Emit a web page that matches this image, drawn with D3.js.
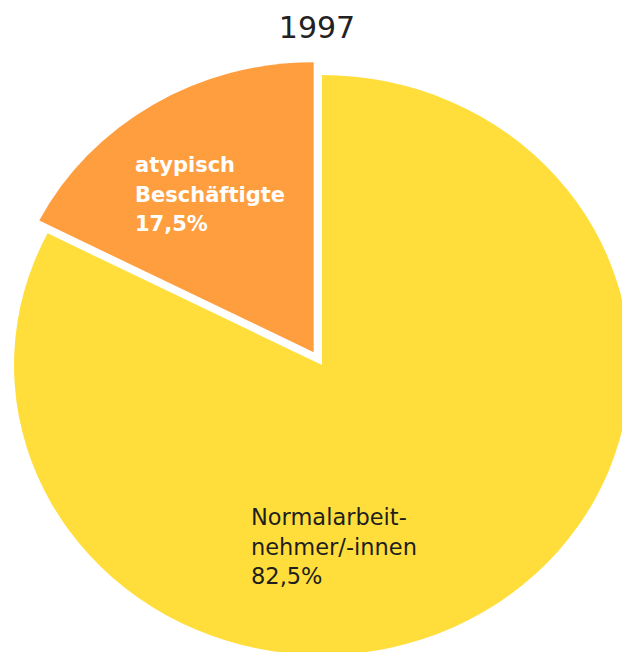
<!DOCTYPE html>
<html>
<head>
<meta charset="utf-8">
<script src="https://cdn.jsdelivr.net/npm/d3@7"></script>
<style>
    body { margin: 0; background: #fff; }
    svg text { font-family: "DejaVu Sans", Verdana, sans-serif; }
</style>
</head>
<body>
<div id="chart"></div>
<script>
// Données : part des salariés, 1997
const title = "1997";
const categories = ["Normalarbeitnehmer/-innen", "atypisch Beschäftigte"];
const values = [82.5, 17.5];
const labelLines = [
    ["Normalarbeit-", "nehmer/-innen", "82,5%"],
    ["atypisch", "Beschäftigte", "17,5%"]
];
const colors = ["#FFDE3C", "#FF9E3F"];
const textColors = ["#1e1e1e", "#ffffff"];

function createChart() {
    const width = 622;
    const height = 652;

    // Le camembert est un peu étiré horizontalement dans l'original
    const cx = 322;
    const cy = 365;
    const radius = 290;
    const stretchX = 1.062;
    const explode = 15;

    const svg = d3.select("#chart")
        .append("svg")
        .attr("width", width)
        .attr("height", height);

    // Titre
    svg.append("text")
        .attr("x", 317)
        .attr("y", 38)
        .attr("text-anchor", "middle")
        .style("font-size", "30px")
        .style("fill", "#222")
        .text(title);

    const data = categories.map((c, i) => ({
        categorie: c,
        valeur: values[i],
        lignes: labelLines[i],
        couleur: colors[i],
        couleurTexte: textColors[i]
    }));

    const pie = d3.pie()
        .sort(null)
        .value(d => d.valeur);

    const arc = d3.arc()
        .innerRadius(0)
        .outerRadius(radius);

    const arcs = pie(data);

    const g = svg.append("g")
        .attr("transform", `translate(${cx},${cy}) scale(${stretchX},1)`);

    // Secteurs (le petit secteur est détaché)
    g.selectAll(".slice")
        .data(arcs)
        .enter()
        .append("path")
        .attr("class", "slice")
        .attr("d", arc)
        .attr("fill", d => d.data.couleur)
        .attr("transform", (d, i) => {
            if (i === 0) return null;
            const a = (d.startAngle + d.endAngle) / 2;
            return `translate(${Math.sin(a) * explode},${-Math.cos(a) * explode})`;
        });

    // Étiquettes (position relative au centre)
    const labelOffsets = [[-71, 160], [-187, -193]];
    const lineHeight = 29.5;

    arcs.forEach((d, i) => {
        const t = svg.append("text")
            .attr("x", cx + labelOffsets[i][0])
            .attr("y", cy + labelOffsets[i][1])
            .style("font-size", i === 1 ? "21px" : "22.5px")
            .style("font-weight", i === 1 ? "bold" : "normal")
            .style("fill", d.data.couleurTexte);

        d.data.lignes.forEach((l, j) => {
            t.append("tspan")
                .attr("x", cx + labelOffsets[i][0])
                .attr("y", cy + labelOffsets[i][1] + j * lineHeight)
                .text(l);
        });
    });
}

createChart();
</script>
</body>
</html>
